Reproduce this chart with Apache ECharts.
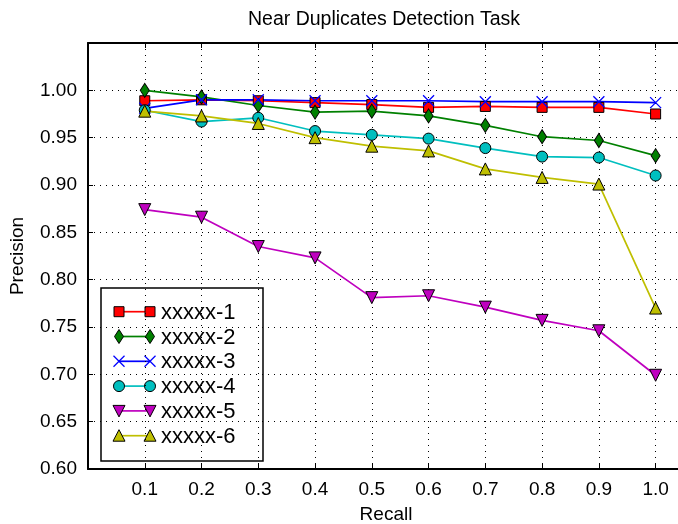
<!DOCTYPE html>
<html><head><meta charset="utf-8">
<script src="https://cdn.jsdelivr.net/npm/echarts@6/dist/echarts.min.js"></script>
<style>html,body{margin:0;padding:0;background:#fff;overflow:hidden}#c{width:678px;height:524px}</style>
</head><body><div id="c"></div>
<script>
var recall = [0.1,0.2,0.3,0.4,0.5,0.6,0.7,0.8,0.9,1.0];
var names = ['xxxxx-1','xxxxx-2','xxxxx-3','xxxxx-4','xxxxx-5','xxxxx-6'];
var s1 = [0.989,0.990,0.989,0.987,0.985,0.982,0.983,0.982,0.982,0.975];
var s2 = [1.000,0.993,0.984,0.977,0.978,0.973,0.963,0.951,0.947,0.931];
var s3 = [0.981,0.990,0.990,0.989,0.989,0.989,0.988,0.988,0.988,0.987];
var s4 = [0.979,0.967,0.971,0.957,0.953,0.949,0.939,0.930,0.929,0.910];
var s5 = [0.874,0.866,0.835,0.823,0.781,0.783,0.771,0.757,0.746,0.699];
var s6 = [0.978,0.973,0.965,0.950,0.941,0.936,0.917,0.908,0.901,0.770];
var colors = ['#ff0000','#008000','#0000ff','#00bfbf','#bf00bf','#bfbf00'];
var FONT = 'Liberation Sans, Arial, sans-serif';

function pairs(arr){ return recall.map(function(x,i){ return [x, arr[i]]; }); }

var symbols = [
  {symbol:'rect', size:10, rotate:0},
  {symbol:'diamond', size:[9,14], rotate:0},
  {symbol:'path://M0,0 L10,10 M10,0 L0,10', size:11, rotate:0},
  {symbol:'circle', size:11, rotate:0},
  {symbol:'triangle', size:12, rotate:180},
  {symbol:'triangle', size:12, rotate:0}
];
var allData = [s1,s2,s3,s4,s5,s6];

var series = allData.map(function(arr, i){
  var sy = symbols[i];
  var isX = i === 2;
  return {
    name: names[i], type:'line', data: pairs(arr),
    symbol: sy.symbol, symbolSize: sy.size, symbolRotate: sy.rotate,
    showAllSymbol: true, animation:false, clip:false,
    lineStyle:{color:colors[i], width:1.7},
    itemStyle: isX ? {color:colors[i], borderColor:colors[i], borderWidth:1.3}
                   : {color:colors[i], borderColor:'#000', borderWidth:1},
    emphasis:{disabled:true}
  };
});

// legend built from graphic elements (matplotlib style: marker-line-marker)
var lg = [];
var bx = 101, by = 288, bw = 162, bh = 173;
lg.push({type:'rect', shape:{x:bx,y:by,width:bw,height:bh}, style:{fill:'#fff', stroke:'#000', lineWidth:1.5}});
var rowY0 = 311.7, rowStep = 24.8, mx1 = 119, mx2 = 150, tx = 161;
function marker(i, cx, cy){
  var c = colors[i], st = {fill:c, stroke:'#000', lineWidth:1};
  if (i===0) return {type:'rect', shape:{x:cx-5,y:cy-5,width:10,height:10}, style:st};
  if (i===1) return {type:'polygon', shape:{points:[[cx,cy-7],[cx+4.5,cy],[cx,cy+7],[cx-4.5,cy]]}, style:st};
  if (i===2) return {type:'group', children:[
      {type:'line', shape:{x1:cx-5.5,y1:cy-5.5,x2:cx+5.5,y2:cy+5.5}, style:{stroke:c,lineWidth:1.3}},
      {type:'line', shape:{x1:cx+5.5,y1:cy-5.5,x2:cx-5.5,y2:cy+5.5}, style:{stroke:c,lineWidth:1.3}}]};
  if (i===3) return {type:'circle', shape:{cx:cx,cy:cy,r:5.5}, style:st};
  if (i===4) return {type:'polygon', shape:{points:[[cx-6,cy-5.5],[cx+6,cy-5.5],[cx,cy+6]]}, style:st};
  return {type:'polygon', shape:{points:[[cx-6,cy+5.5],[cx+6,cy+5.5],[cx,cy-6]]}, style:st};
}
names.forEach(function(n, i){
  var y = rowY0 + i*rowStep;
  lg.push({type:'line', shape:{x1:mx1,y1:y,x2:mx2,y2:y}, style:{stroke:colors[i], lineWidth:1.7}});
  lg.push(marker(i, mx1, y));
  lg.push(marker(i, mx2, y));
  lg.push({type:'text', x:tx, y:y+1, style:{text:n, fill:'#000', font:'22px '+FONT, textVerticalAlign:'middle', textAlign:'left'}});
});

var chart = echarts.init(document.getElementById('c'), null, {renderer:'canvas'});
chart.setOption({
  backgroundColor:'#fff',
  animation:false,
  title:{text:'Near Duplicates Detection Task', left:243, top:5,
    textStyle:{fontFamily:FONT, fontSize:19.5, fontWeight:'normal', color:'#000'}},
  grid:{left:88, top:43, width:596, bottom:55, show:false, containLabel:false, outerBoundsMode:'none'},
  xAxis:[{
    type:'value', min:0, max:1.05, interval:0.1,
    name:'Recall', nameLocation:'middle', nameGap:36,
    nameTextStyle:{fontFamily:FONT, fontSize:19, color:'#000'},
    axisLine:{show:true, onZero:false, lineStyle:{color:'#000', width:2}},
    axisTick:{show:true, inside:true, length:5, lineStyle:{color:'#000', width:1}},
    axisLabel:{fontFamily:FONT, fontSize:19, color:'#000', margin:11,
      showMaxLabel:false,
      formatter:function(v){ return (v < 0.05 || v > 1.01) ? '' : v.toFixed(1); }},
    splitLine:{show:true, lineStyle:{color:'#000', width:1, type:[1,5]}}
  },{
    type:'value', position:'top', min:0, max:1.05, interval:0.1,
    axisLine:{show:true, onZero:false, lineStyle:{color:'#000', width:2}},
    axisTick:{show:true, inside:true, length:5, lineStyle:{color:'#000', width:1}},
    axisLabel:{show:false}, splitLine:{show:false}
  }],
  yAxis:{
    type:'value', min:0.6, max:1.05, interval:0.05,
    name:'Precision', nameLocation:'middle', nameGap:61,
    nameTextStyle:{fontFamily:FONT, fontSize:19, color:'#000'},
    axisLine:{show:true, onZero:false, lineStyle:{color:'#000', width:2}},
    axisTick:{show:true, inside:true, length:5, lineStyle:{color:'#000', width:1}},
    axisLabel:{fontFamily:FONT, fontSize:19, color:'#000', margin:11, showMaxLabel:false,
      formatter:function(v){ return v > 1.01 ? '' : v.toFixed(2); }},
    splitLine:{show:true, lineStyle:{color:'#000', width:1, type:[1,5]}}
  },
  series: series,
  graphic: lg
});
</script></body></html>
